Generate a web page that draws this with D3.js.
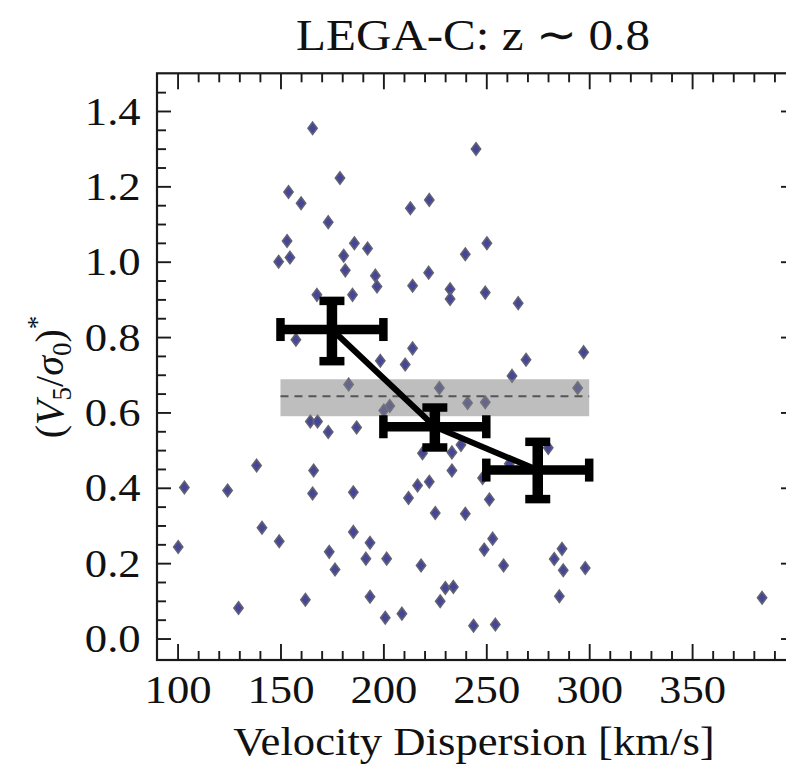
<!DOCTYPE html>
<html><head><meta charset="utf-8">
<script src="https://cdn.jsdelivr.net/npm/d3@7"></script>
<style>body{margin:0;background:#fff} svg{display:block} text{font-family:"Liberation Serif","Times New Roman",serif}</style>
</head><body><svg id="c" width="786" height="768"></svg>
<script>
// ---- data ----
const sigma = [165.6,178.9,153.9,160.0,213.1,222.3,173.2,153.2,154.6,149.1,185.9,192.3,180.7,181.5,239.8,196.1,196.9,214.2,222.0,232.4,232.4,167.7,185.0,157.5,214.2,198.5,210.6,245.0,250.3,249.5,265.5,269.3,297.3,183.1,227.2,240.9,200.2,203.1,164.5,168.0,173.2,187.0,219.0,233.3,233.3,138.4,166.1,103.3,124.3,165.6,185.4,212.2,216.6,222.3,225.2,239.8,141.0,149.4,185.4,193.5,100.3,173.7,191.5,201.6,176.5,218.3,230.1,234.0,227.6,162.1,193.5,129.6,200.9,209.0,262.5,294.4,249.5,280.1,237.7,261.2,248.2,251.5,253.1,249.0,258.4,286.8,283.0,287.4,298.1,285.5,384.0,243.8,254.4];
const ratio = [1.354,1.222,1.185,1.155,1.142,1.164,1.105,1.055,1.011,1.000,1.049,1.035,1.016,0.977,1.020,0.963,0.934,0.936,0.971,0.927,0.901,0.912,0.912,0.793,0.770,0.737,0.727,1.299,1.049,0.918,0.890,0.740,0.760,0.674,0.665,0.625,0.605,0.617,0.576,0.576,0.548,0.560,0.492,0.494,0.446,0.459,0.446,0.401,0.393,0.385,0.388,0.373,0.406,0.416,0.333,0.331,0.294,0.258,0.283,0.254,0.243,0.230,0.212,0.212,0.183,0.194,0.134,0.137,0.099,0.103,0.111,0.081,0.055,0.066,0.697,0.665,0.627,0.506,0.514,0.464,0.426,0.369,0.265,0.236,0.194,0.238,0.211,0.181,0.187,0.112,0.108,0.034,0.037];

const binCenter = [175, 225, 275];
const binMean   = [0.820, 0.562, 0.447];
const binLo     = [150, 200, 250];
const binHi     = [200, 250, 300];
const errLo     = [0.736, 0.507, 0.370];
const errHi     = [0.896, 0.613, 0.522];

const bandX = [150, 300];
const bandY = [0.590, 0.688];
const bandMean = 0.643;

const xLabelled = [100, 150, 200, 250, 300, 350];
const xMajor = [100, 150, 200, 250, 300, 350, 400];
const xMinor = [110,120,130,140,160,170,180,190,210,220,230,240,260,270,280,290,310,320,330,340,360,370,380,390];
const yMajor = [0.0, 0.2, 0.4, 0.6, 0.8, 1.0, 1.2, 1.4];
const yMinor = [0.05,0.1,0.15,0.25,0.3,0.35,0.45,0.5,0.55,0.65,0.7,0.75,0.85,0.9,0.95,1.05,1.1,1.15,1.25,1.3,1.35,1.45];

const titleText = "LEGA-C: z \u223C 0.8";
const xTitle = "Velocity Dispersion [km/s]";

// ---- layout ----
const L = 157, R = 795, T = 73.3, B = 660;
const SX = 1.09; // horizontal stretch of the reference's text
const svg = d3.select("#c");
const x = d3.scaleLinear().domain([90, 400]).range([L, R]);
const y = d3.scaleLinear().domain([-0.057, 1.5]).range([B, T]);

// points
svg.append("g").selectAll("path").data(sigma.map((s,i)=>[s, ratio[i]])).join("path")
  .attr("d", "M0,-6.2L4.6,0L0,6.2L-4.6,0Z")
  .attr("transform", d => `translate(${x(d[0])},${y(d[1])})`)
  .attr("fill", "#45459a").attr("stroke", "#626272").attr("stroke-width", 1.6);

// band
svg.append("rect")
  .attr("x", x(bandX[0])).attr("width", x(bandX[1]) - x(bandX[0]))
  .attr("y", y(bandY[1])).attr("height", y(bandY[0]) - y(bandY[1]))
  .attr("fill", "#828282").attr("fill-opacity", 0.52);
svg.append("line")
  .attr("x1", x(bandX[0])).attr("x2", x(bandX[1]))
  .attr("y1", y(bandMean)).attr("y2", y(bandMean))
  .attr("stroke", "#555").attr("stroke-width", 2).attr("stroke-dasharray", "8,6");

// connecting line
svg.append("path")
  .datum(binCenter.map((c,i)=>[c, binMean[i]]))
  .attr("d", d3.line().x(d=>x(d[0])).y(d=>y(d[1])))
  .attr("fill", "none").attr("stroke", "#000").attr("stroke-width", 6);

// error bars
const eb = svg.append("g").attr("stroke", "#000");
binCenter.forEach((c,i) => {
  const cx = x(c), cy = y(binMean[i]);
  eb.append("line").attr("x1", x(binLo[i])).attr("x2", x(binHi[i])).attr("y1", cy).attr("y2", cy).attr("stroke-width", 9.5);
  eb.append("line").attr("x1", cx).attr("x2", cx).attr("y1", y(errHi[i])).attr("y2", y(errLo[i])).attr("stroke-width", 10.5);
  [binLo[i], binHi[i]].forEach(v => eb.append("line").attr("x1", x(v)).attr("x2", x(v)).attr("y1", cy-11.5).attr("y2", cy+11.5).attr("stroke-width", 8.5));
  [errLo[i], errHi[i]].forEach(v => eb.append("line").attr("x1", cx-12.5).attr("x2", cx+12.5).attr("y1", y(v)).attr("y2", y(v)).attr("stroke-width", 8.5));
  eb.append("path").attr("d", "M0,-10L8,0L0,10L-8,0Z").attr("transform", `translate(${cx},${cy})`).attr("fill", "#000").attr("stroke", "none");
});

// axes / frame
function style(g){
  g.select(".domain").remove();
  g.selectAll("line").attr("stroke", "#1a1a1a").attr("stroke-width", 1.9);
  g.selectAll("text").attr("font-size", 41).attr("fill", "#111")
    .attr("transform", `scale(${SX},1)`);
  g.attr("font-family", null).attr("font-size", null);
}
svg.append("g").attr("transform", `translate(0,${B})`)
  .call(d3.axisBottom(x).tickValues(xLabelled).tickSize(-16).tickSizeOuter(0).tickPadding(14).tickFormat(d3.format("d"))).call(style);
svg.append("g").attr("transform", `translate(0,${B})`)
  .call(d3.axisBottom(x).tickValues(xMinor).tickSize(-9).tickSizeOuter(0).tickFormat("")).call(style);
svg.append("g").attr("transform", `translate(0,${T})`)
  .call(d3.axisTop(x).tickValues(xMajor).tickSize(-16).tickSizeOuter(0).tickFormat("")).call(style);
svg.append("g").attr("transform", `translate(0,${T})`)
  .call(d3.axisTop(x).tickValues(xMinor).tickSize(-9).tickSizeOuter(0).tickFormat("")).call(style);
svg.append("g").attr("transform", `translate(${L},0)`)
  .call(d3.axisLeft(y).tickValues(yMajor).tickSize(-14).tickSizeOuter(0).tickPadding(15).tickFormat(d3.format(".1f"))).call(style);
svg.append("g").attr("transform", `translate(${L},0)`)
  .call(d3.axisLeft(y).tickValues(yMinor).tickSize(-9).tickSizeOuter(0).tickFormat("")).call(style);
svg.append("g").attr("transform", `translate(${R},0)`)
  .call(d3.axisRight(y).tickValues(yMajor).tickSize(-14).tickSizeOuter(0).tickFormat("")).call(style);
svg.append("g").attr("transform", `translate(${R},0)`)
  .call(d3.axisRight(y).tickValues(yMinor).tickSize(-9).tickSizeOuter(0).tickFormat("")).call(style);

svg.append("rect").attr("x", L).attr("y", T).attr("width", R-L).attr("height", B-T)
  .attr("fill", "none").attr("stroke", "#1a1a1a").attr("stroke-width", 2.2);

// titles
svg.append("text").attr("transform", `translate(473,50) scale(${SX},1)`).attr("text-anchor", "middle")
  .attr("font-size", 45).attr("fill", "#111").text(titleText);
svg.append("text").attr("transform", `translate(${(L+R)/2 - 2},755) scale(${SX},1)`).attr("text-anchor", "middle")
  .attr("font-size", 41).attr("fill", "#111").text(xTitle);

const yt = svg.append("text").attr("transform", "translate(63,377) rotate(-90)")
  .attr("text-anchor", "middle").attr("font-size", 40).attr("fill", "#111");
yt.append("tspan").text("(");
yt.append("tspan").attr("font-style", "italic").text("V");
yt.append("tspan").attr("font-size", 27).attr("dy", 8).text("5");
yt.append("tspan").attr("dy", -8).text("/");
yt.append("tspan").attr("font-style", "italic").text("\u03C3");
yt.append("tspan").attr("font-size", 27).attr("dy", 8).text("0");
yt.append("tspan").attr("dy", -8).text(")");
yt.append("tspan").attr("font-size", 27).attr("dy", -17).text("*");
</script></body></html>
